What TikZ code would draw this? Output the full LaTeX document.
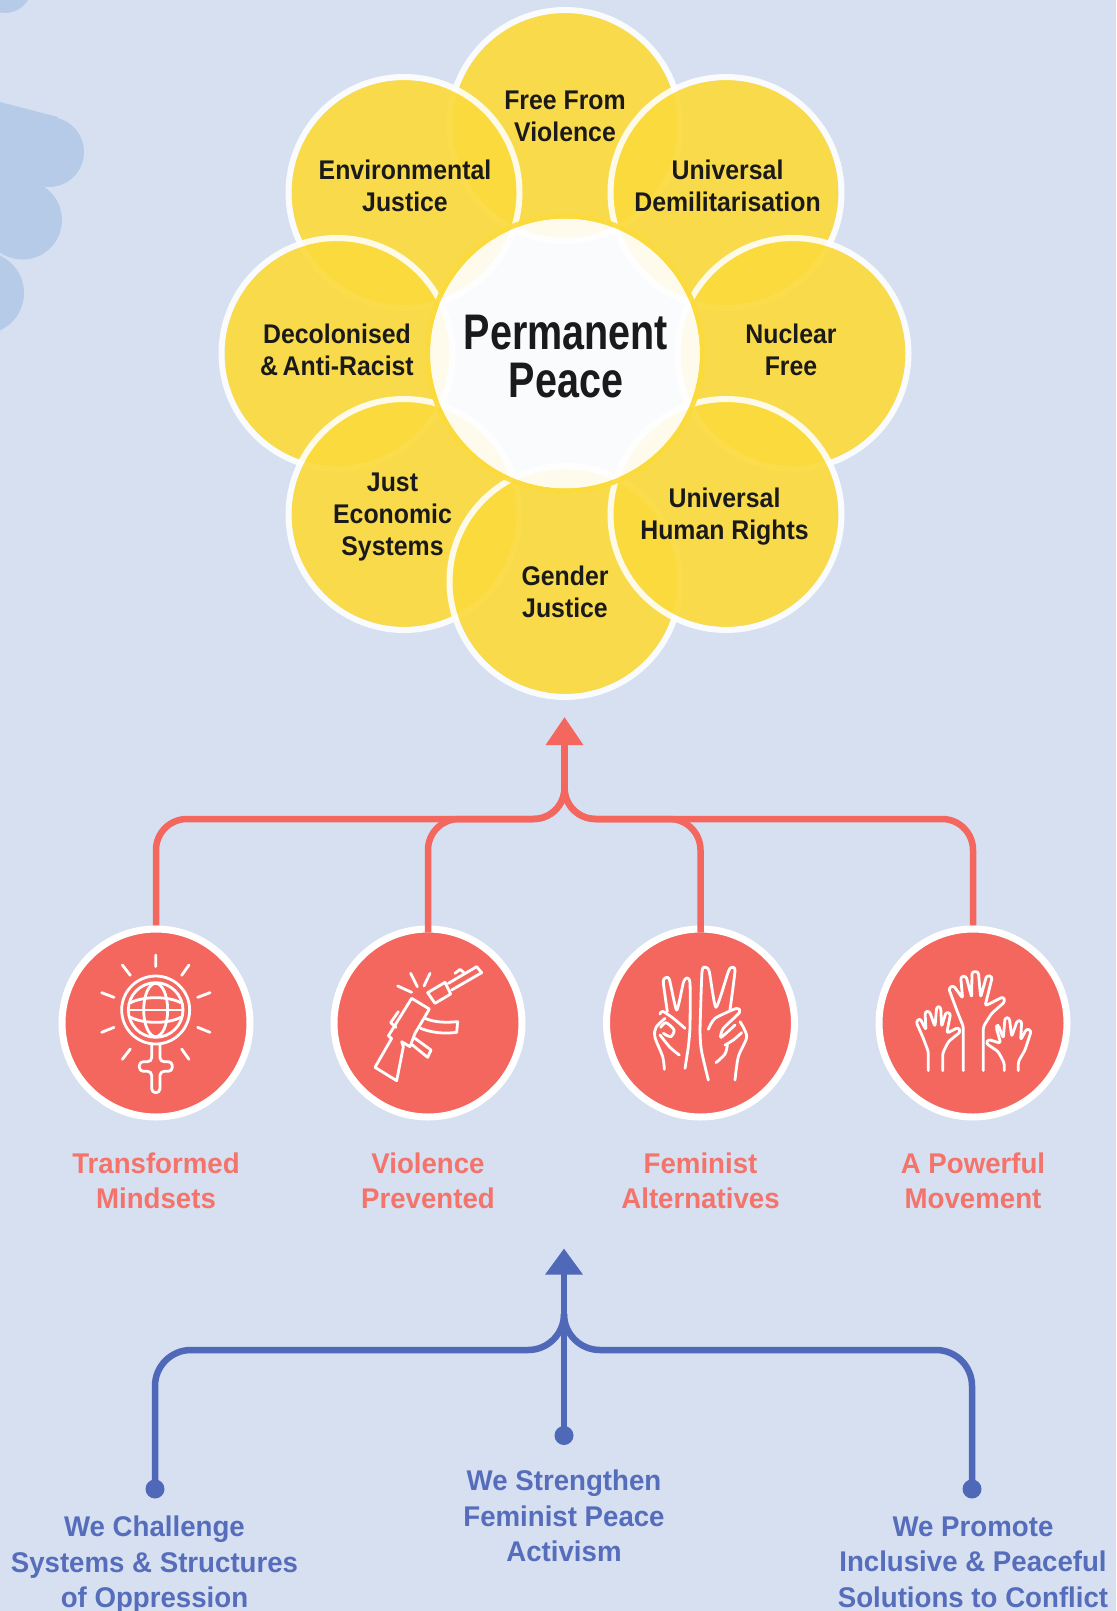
\documentclass[tikz,border=0pt]{standalone}
\usepackage{fontspec}
\usetikzlibrary{arrows.meta}
\setmainfont{Liberation Sans}
\newfontfamily\lblfont[FakeStretch=.92]{Liberation Sans}
\newfontfamily\subfont[FakeStretch=.97]{Liberation Sans}
\newfontfamily\headfont[FakeStretch=.79]{Liberation Sans}
\definecolor{bgc}{HTML}{D6E0F1}
\definecolor{blobc}{HTML}{B5CBE8}
\definecolor{yel}{HTML}{FCDA3C}
\definecolor{coral}{HTML}{F4675F}
\definecolor{coraltxt}{HTML}{F4746C}
\definecolor{bluel}{HTML}{5068B8}
\definecolor{bluetxt}{HTML}{566DBB}
\definecolor{ink}{HTML}{1A1A1A}
\pgfdeclarelayer{base}
\pgfdeclarelayer{lines}
\pgfsetlayers{base,lines,main}
\tikzset{
  petallabel/.style={font=\lblfont\bfseries\fontsize{27}{32}\selectfont,text=ink,align=center,inner sep=0},
  headlabel/.style={font=\headfont\bfseries\fontsize{50}{48}\selectfont,text=ink,align=center,inner sep=0},
  coralabel/.style={font=\subfont\bfseries\fontsize{28.5}{35.5}\selectfont,text=coraltxt,align=center,inner sep=0},
  bluelabel/.style={font=\subfont\bfseries\fontsize{28.5}{35.5}\selectfont,text=bluetxt,align=center,inner sep=0},
  disc/.style={circle,inner sep=0,minimum size=188pt,fill=coral,draw=white,line width=7pt},
  dotb/.style={circle,inner sep=0,minimum size=19pt,fill=bluel},
  coralline/.style={draw=coral,line width=6.5pt,rounded corners=31pt},
  blueline/.style={draw=bluel,line width=6.5pt,rounded corners=36pt},
  icon/.style={draw=white,line width=2.8pt,line cap=round,line join=round,rounded corners=2.5pt},
  iconround/.style={draw=white,line width=2.8pt,line cap=round,line join=round,rounded corners=4pt},
  iconsharp/.style={draw=white,line width=2.8pt,line cap=round,line join=round},
}
\newcommand\petalshape[2]{%
  \fill[yel,fill opacity=.92] (#1,#2) circle[radius=112.5];
  \draw[white,line width=6pt,draw opacity=.88] (#1,#2) circle[radius=115.5];
}
\begin{document}
\begin{tikzpicture}[x=1pt,y=-1pt]
\useasboundingbox (0,0) rectangle (1116,1611);
\begin{pgfonlayer}{base}
\fill[bgc] (0,0) rectangle (1116,1611);
% background blob
\begin{scope}
\clip (0,0) rectangle (1116,1611);
\fill[blobc] (5,-14) circle[radius=27];
\fill[blobc] (-5,102) -- (0,102) -- (58,117) -- (35,180) -- (0,250) -- (0,333) -- (-5,333) -- cycle;
\fill[blobc] (49,152) circle[radius=35];
\fill[blobc] (22.5,220) circle[radius=39.5];
\fill[blobc] (-17,293) circle[radius=41];
\end{scope}
\end{pgfonlayer}
% petals
\petalshape{565}{125.5}
\petalshape{404}{192.5}
\petalshape{726}{192.5}
\petalshape{337}{353.5}
\petalshape{793}{353.5}
\petalshape{404}{514.5}
\petalshape{565}{581.5}
\petalshape{726}{514.5}
% centre
\fill[white,fill opacity=.9] (565,353.5) circle[radius=135];
\draw[yel,line width=5pt,draw opacity=.95] (565,353.5) circle[radius=137.5];
% petal labels
\node[petallabel] (l1) at (565,116.6) {Free From\\Violence};
\node[petallabel] (l2) at (405,186) {Environmental\\Justice};
\node[petallabel] (l3) at (727.5,186) {Universal\\Demilitarisation};
\node[petallabel] (l4) at (337,349.4) {Decolonised\\\&\,Anti-Racist};
\node[petallabel] (l5) at (791,349.4) {Nuclear\\Free};
\node[petallabel] (l6) at (392.5,517) {Just\\Economic\\Systems};
\node[petallabel] (l7) at (724.5,517) {Universal\\Human Rights};
\node[petallabel] (l8) at (565,592) {Gender\\Justice};
\node[headlabel] (head) at (566,356.6) {Permanent\\Peace};
% coral connectors
\coordinate (railc) at (564.5,819);
\coordinate (hubc) at (564.5,788);
\coordinate (tipc) at (564.5,717);
\node[disc] (c1) at (156,1023) {};
\node[disc] (c2) at (428,1023) {};
\node[disc] (c3) at (700.5,1023) {};
\node[disc] (c4) at (973,1023) {};
\begin{pgfonlayer}{lines}
\draw[coralline] (c1.north) |- (railc) -- (hubc);
\draw[coralline] (c4.north) |- (railc) -- (hubc);
\end{pgfonlayer}
\draw[coralline] ([yshift=-7pt]c2.north) |- (railc) -- (hubc);
\draw[coralline] ([yshift=-7pt]c3.north) |- (railc) -- (hubc);
\draw[draw=coral,line width=6.5pt,-{Triangle[width=36pt,length=28pt]}] (hubc) -- (tipc);
% icon 1: globe and female sign
\begin{scope}[shift={(40,910)},scale=1/3]
\draw[icon] (347,135)--(347,170) (247,165)--(271,196) (447,165)--(425,196)
  (185,248)--(222,262) (510,248)--(473,262) (185,367)--(222,352) (510,367)--(473,352)
  (247,448)--(271,417) (447,448)--(425,417);
\draw[icon] (347,300) circle[radius=102];
\draw[icon] (347,300) circle[radius=82];
\draw[icon] (347,300) ellipse[x radius=36,y radius=80];
\draw[icon] (272,278) .. controls (310,258) and (385,258) .. (422,278);
\draw[icon] (272,322) .. controls (310,342) and (385,342) .. (422,322);
\draw[icon] (268,300)--(426,300);
\draw[iconround] (335,402)--(335,455)--(298,455)--(298,484)--(335,484)--(335,548)--(360,548)--(360,484)--(397,484)--(397,455)--(360,455)--(360,402);
\end{scope}
% icon 2: rifle
\begin{scope}[shift={(360,950)},scale=1/3]
\draw[iconsharp] (155,145)--(208,177)--(180,225)--(165,250)--(150,290)--(125,275)--(130,290)--(110,392)--(45,352)--(95,265)--(85,258)--cycle;
\draw[iconsharp] (115,185)--(92,218)--(108,232);
\draw[iconsharp] (195,205) .. controls (225,218) and (260,218) .. (293,215)--(290,247) .. controls (250,252) and (215,248) .. (182,235);
\draw[iconsharp] (165,265)--(213,300)--(203,322)--(155,283);
\draw[iconsharp] (203,128)--(255,97)--(272,132)--(225,160)--cycle;
\draw[iconsharp] (265,100)--(350,50)--(365,68)--(275,120);
\draw[iconsharp] (285,70)--(300,58)--(312,68);
\draw[iconsharp] (152,70)--(172,110) (210,70)--(192,108) (113,108)--(155,127);
\end{scope}
% icon 3: two hands
\begin{scope}[shift={(640,950)},scale=1/3]
\draw[iconsharp] plot[smooth,tension=.35] coordinates {(82,185)(70,98)(75,84)(88,88)(110,180)(130,98)(140,84)(150,98)(150,230)(145,290)(135,355)};
\draw[iconsharp] plot[smooth,tension=.5] coordinates {(73,358)(68,320)(45,262)(48,232)(75,205)};
\draw[iconsharp] plot[smooth,tension=.5] coordinates {(60,192)(68,184)(100,205)(135,235)};
\draw[iconsharp] plot[smooth,tension=.5] coordinates {(62,232)(78,218)(102,240)(92,260)(70,250)};
\draw[iconsharp] plot[smooth,tension=.5] coordinates {(118,315)(90,292)(60,255)};
\draw[iconsharp] plot[smooth,tension=.35] coordinates {(180,240)(186,65)(197,52)(208,65)(228,172)(265,65)(275,52)(285,62)(270,180)};
\draw[iconsharp] plot[smooth,tension=.5] coordinates {(180,240)(184,300)(205,390)};
\draw[iconsharp] plot[smooth,tension=.5] coordinates {(285,390)(295,320)(320,260)(300,215)};
\draw[iconsharp] plot[smooth,tension=.4] coordinates {(205,238)(225,205)(290,175)(298,188)(250,235)(243,262)(285,225)};
\draw[iconsharp] plot[smooth,tension=.5] coordinates {(255,285)(280,270)(305,248)};
\draw[iconsharp] plot[smooth,tension=.5] coordinates {(228,338)(255,312)(262,285)};
\end{scope}
% icon 4: raised hands
\begin{scope}[shift={(590,910)},scale=1/3]
\draw[icon] (1120,482)--(1120,350)--(1100,300)--(1076,235)--(1090,226)--(1118,265)--(1112,200)--(1128,198)--(1145,262)--(1146,185)--(1165,185)--(1172,262)--(1190,196)--(1207,200)--(1185,288)--(1240,260)--(1245,275)--(1205,310)--(1180,350)--(1180,482);
\draw[icon] (1015,482)--(1015,425)--(1000,385)--(978,335)--(990,325)--(1008,360)--(1005,305)--(1018,303)--(1035,350)--(1040,290)--(1052,290)--(1055,350)--(1068,306)--(1082,310)--(1070,370)--(1105,352)--(1112,365)--(1075,395)--(1058,430)--(1058,482);
\draw[icon] (1285,482)--(1285,455)--(1305,420)--(1324,362)--(1310,356)--(1292,390)--(1295,333)--(1282,331)--(1265,380)--(1258,323)--(1245,323)--(1240,385)--(1225,345)--(1218,350)--(1232,400)--(1195,388)--(1188,400)--(1225,425)--(1243,460)--(1243,482);
\end{scope}
% coral labels
\node[coralabel] (t1) at (156,1180.7) {Transformed\\Mindsets};
\node[coralabel] (t2) at (428,1180.7) {Violence\\Prevented};
\node[coralabel] (t3) at (700.5,1180.7) {Feminist\\Alternatives};
\node[coralabel] (t4) at (973,1180.7) {A Powerful\\Movement};
% blue connectors
\node[dotb] (d1) at (155,1489) {};
\node[dotb] (d2) at (564,1435.5) {};
\node[dotb] (d3) at (972,1489) {};
\coordinate (railb) at (564,1350);
\coordinate (hubb) at (564,1314);
\coordinate (tipb) at (564,1248.5);
\draw[blueline] (d1.center) |- (railb) -- (hubb);
\draw[blueline] (d3.center) |- (railb) -- (hubb);
\draw[draw=bluel,line width=6.5pt,-{Triangle[width=36pt,length=26pt]}] (d2.center) -- (tipb);
% blue labels
\node[bluelabel] (b1) at (154.5,1565) {We Challenge\\Systems \& Structures\\of Oppression};
\node[bluelabel] (b2) at (564,1516) {We Strengthen\\Feminist Peace\\Activism};
\node[bluelabel] (b3) at (973,1562) {We Promote\\Inclusive \& Peaceful\\Solutions to Conflict};
\end{tikzpicture}
\end{document}
